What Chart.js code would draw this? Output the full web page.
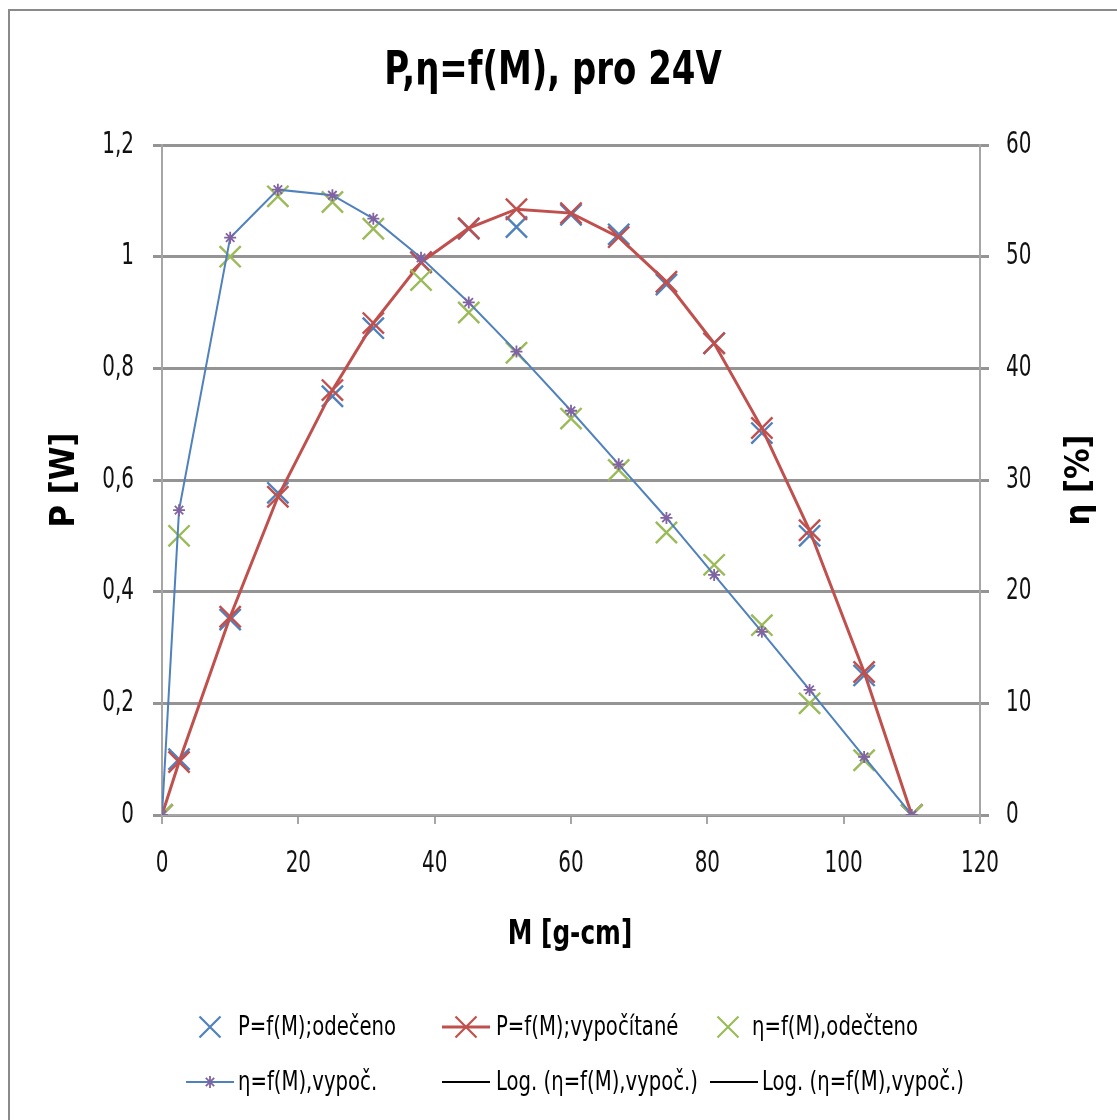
<!DOCTYPE html>
<html>
<head>
<meta charset="utf-8">
<script src="https://cdn.jsdelivr.net/npm/chart.js@4/dist/chart.umd.min.js"></script>
<style>
  html, body { margin: 0; padding: 0; background: #fff; }
  #wrap { width: 1117px; height: 1120px; position: relative; }
</style>
</head>
<body>
<div id="wrap"><canvas id="c" width="1117" height="1120"></canvas></div>
<script>
// ---- data ----
const chartTitle = 'P,η=f(M), pro 24V';
const xTitle = 'M [g-cm]';
const yLeftTitle = 'P [W]';
const yRightTitle = 'η [%]';

const M = [0, 2.5, 10, 17, 25, 31, 38, 45, 52, 60, 67, 74, 81, 88, 95, 103, 110];
const P_odeceno = [0, 0.10, 0.35, 0.577, 0.75, 0.872, 0.99, 1.05, 1.053, 1.075, 1.04, 0.95, 0.845, 0.684, 0.50, 0.25, 0];
const P_vypocitane = [0, 0.095, 0.355, 0.57, 0.761, 0.881, 0.99, 1.051, 1.085, 1.078, 1.035, 0.955, 0.845, 0.693, 0.51, 0.256, 0];
const eta_odecteno = [0, 25, 50, 55.4, 54.9, 52.5, 47.9, 45, 41.4, 35.5, 30.9, 25.3, 22.4, 17, 10, 4.9, 0];
const eta_vypoc = [0, 27.3, 51.7, 56, 55.5, 53.4, 49.9, 45.9, 41.5, 36.2, 31.4, 26.6, 21.5, 16.4, 11.2, 5.2, 0];

const seriesLabels = ['P=f(M);odečeno', 'P=f(M);vypočítané', 'η=f(M),odečteno', 'η=f(M),vypoč.', 'Log. (η=f(M),vypoč.)', 'Log. (η=f(M),vypoč.)'];

const xMin = 0, xMax = 120, xStep = 20;
const pMin = 0, pMax = 1.2, pStep = 0.2;
const eMin = 0, eMax = 60, eStep = 10;

// ---- styling ----
const FONT = "'Liberation Sans Narrow', 'DejaVu Sans Condensed', 'Open Sans', sans-serif";
const BLUE = '#4F81BD', RED = '#C0504D', GREEN = '#9BBB59', PURPLE = '#8064A2';
const GRID = '#949494', AXIS = '#a6a6a6';

const pts = ys => M.map((x, i) => ({ x: x, y: ys[i] }));

const datasets = [
  { label: seriesLabels[0], data: pts(P_odeceno), yAxisID: 'y', showLine: false,
    pointStyle: 'crossRot', pointRadius: 15, pointBorderWidth: 2.4, pointBorderColor: BLUE, borderColor: BLUE, backgroundColor: BLUE, order: 6,
    _leg: { marker: 'x', line: null, mColor: BLUE } },
  { label: seriesLabels[1], data: pts(P_vypocitane), yAxisID: 'y', showLine: true, tension: 0,
    borderColor: RED, borderWidth: 3, pointStyle: 'crossRot', pointRadius: 15, pointBorderWidth: 2.4, pointBorderColor: RED, backgroundColor: RED, order: 5,
    _leg: { marker: 'x', line: RED, mColor: RED } },
  { label: seriesLabels[2], data: pts(eta_odecteno), yAxisID: 'y2', showLine: false,
    pointStyle: 'crossRot', pointRadius: 15, pointBorderWidth: 2.4, pointBorderColor: GREEN, borderColor: GREEN, backgroundColor: GREEN, order: 4,
    _leg: { marker: 'x', line: null, mColor: GREEN } },
  { label: seriesLabels[3], data: pts(eta_vypoc), yAxisID: 'y2', showLine: true, tension: 0,
    borderColor: BLUE, borderWidth: 2, pointStyle: 'star', pointRadius: 6, pointBorderWidth: 1.8, pointBorderColor: PURPLE, backgroundColor: PURPLE, order: 3,
    _leg: { marker: 'star', line: BLUE, mColor: PURPLE } },
  { label: seriesLabels[4], data: [], yAxisID: 'y2', showLine: true, borderColor: '#000', borderWidth: 2, pointRadius: 0, order: 2,
    _leg: { marker: null, line: '#000' } },
  { label: seriesLabels[5], data: [], yAxisID: 'y2', showLine: true, borderColor: '#000', borderWidth: 2, pointRadius: 0, order: 1,
    _leg: { marker: null, line: '#000' } }
];

// legend slots (row/column positions)
const legendSlots = [
  { iconX: 186, textX: 238, y: 1027 },
  { iconX: 442, textX: 496, y: 1027 },
  { iconX: 704, textX: 752, y: 1027 },
  { iconX: 186, textX: 238, y: 1082 },
  { iconX: 442, textX: 496, y: 1082 },
  { iconX: 710, textX: 762, y: 1082 }
];

function drawX(ctx, cx, cy, r, color, lw) {
  ctx.save(); ctx.strokeStyle = color; ctx.lineWidth = lw;
  ctx.beginPath();
  ctx.moveTo(cx - r * 0.7, cy - r * 0.7); ctx.lineTo(cx + r * 0.7, cy + r * 0.7);
  ctx.moveTo(cx + r * 0.7, cy - r * 0.7); ctx.lineTo(cx - r * 0.7, cy + r * 0.7);
  ctx.stroke(); ctx.restore();
}
function drawStar(ctx, cx, cy, r, color, lw) {
  ctx.save(); ctx.strokeStyle = color; ctx.lineWidth = lw;
  ctx.beginPath();
  ctx.moveTo(cx - r * 0.7, cy - r * 0.7); ctx.lineTo(cx + r * 0.7, cy + r * 0.7);
  ctx.moveTo(cx + r * 0.7, cy - r * 0.7); ctx.lineTo(cx - r * 0.7, cy + r * 0.7);
  ctx.moveTo(cx, cy - r); ctx.lineTo(cx, cy + r);
  ctx.stroke(); ctx.restore();
}
// text drawn with a horizontal squeeze (reference uses a narrow face)
function sText(ctx, text, x, y, align, sx) {
  ctx.save(); ctx.translate(x, y); ctx.scale(sx, 1);
  ctx.textAlign = align; ctx.fillText(text, 0, 0); ctx.restore();
}

const fmt = v => String(Math.round(v * 10) / 10).replace('.', ',');

const decor = {
  id: 'decor',
  beforeDraw(chart) {
    const ctx = chart.ctx;
    ctx.save();
    ctx.fillStyle = '#fff'; ctx.fillRect(0, 0, chart.width, chart.height);
    ctx.strokeStyle = '#8a8a8a'; ctx.lineWidth = 2;
    ctx.strokeRect(9, 10, chart.width + 50, chart.height + 50);
    ctx.restore();
  },
  afterDraw(chart) {
    const ctx = chart.ctx;
    ctx.save();
    ctx.fillStyle = '#000';
    ctx.textBaseline = 'middle';
    // title
    ctx.font = 'bold 46px ' + FONT;
    sText(ctx, chartTitle, 553, 72, 'center', 0.82);
    // x title
    ctx.font = 'bold 34px ' + FONT;
    sText(ctx, xTitle, 570, 935, 'center', 0.81);
    // left y title
    ctx.textAlign = 'center';
    ctx.save(); ctx.translate(65, 480); ctx.rotate(-Math.PI / 2);
    ctx.fillText(yLeftTitle, 0, 0); ctx.restore();
    // right y title
    ctx.save(); ctx.translate(1080, 480); ctx.rotate(-Math.PI / 2);
    ctx.fillText(yRightTitle, 0, 0); ctx.restore();

    // tick labels from the library's scales
    ctx.font = '30px ' + FONT;
    ctx.fillStyle = '#111';
    const sx = chart.scales.x, sy = chart.scales.y, sy2 = chart.scales.y2;
    sy.ticks.forEach(t => sText(ctx, fmt(t.value), 134, sy.getPixelForValue(t.value), 'right', 0.74));
    sy2.ticks.forEach(t => sText(ctx, String(t.value), 1006, sy2.getPixelForValue(t.value), 'left', 0.74));
    sx.ticks.forEach(t => sText(ctx, String(t.value), sx.getPixelForValue(t.value), 864, 'center', 0.74));

    // legend
    ctx.font = '26px ' + FONT;
    chart.data.datasets.forEach((ds, i) => {
      const s = legendSlots[i], L = ds._leg;
      const mid = s.iconX + 24;
      if (L.line) {
        ctx.save(); ctx.strokeStyle = L.line; ctx.lineWidth = (ds.borderWidth || 2);
        ctx.beginPath(); ctx.moveTo(s.iconX, s.y); ctx.lineTo(s.iconX + 48, s.y); ctx.stroke(); ctx.restore();
      }
      if (L.marker === 'x') drawX(ctx, mid, s.y, 15, L.mColor, 2.2);
      if (L.marker === 'star') drawStar(ctx, mid, s.y, 6, L.mColor, 1.8);
      ctx.fillStyle = '#000';
      sText(ctx, ds.label, s.textX, s.y + 1, 'left', 0.84);
    });
    ctx.restore();
  }
};

new Chart(document.getElementById('c'), {
  type: 'scatter',
  data: { datasets: datasets },
  options: {
    responsive: false,
    animation: false,
    layout: { padding: { top: 145, left: 0, right: 0, bottom: 0 } },
    plugins: { legend: { display: false }, title: { display: false }, tooltip: { enabled: false } },
    scales: {
      x: {
        type: 'linear', min: xMin, max: xMax,
        ticks: { display: false, stepSize: xStep },
        grid: { drawOnChartArea: false, drawTicks: true, tickLength: 9, color: AXIS, lineWidth: 2 },
        border: { display: true, color: AXIS, width: 2 },
        afterFit: s => { s.height = 305; }
      },
      y: {
        type: 'linear', position: 'left', min: pMin, max: pMax,
        ticks: { display: false, stepSize: pStep },
        grid: { color: GRID, lineWidth: 3, tickLength: 9, tickColor: GRID },
        border: { display: true, color: AXIS, width: 2 },
        afterFit: s => { s.width = 162; }
      },
      y2: {
        type: 'linear', position: 'right', min: eMin, max: eMax,
        ticks: { display: false, stepSize: eStep },
        grid: { drawOnChartArea: false, tickLength: 9, color: GRID, lineWidth: 3 },
        border: { display: true, color: AXIS, width: 2 },
        afterFit: s => { s.width = 137; }
      }
    }
  },
  plugins: [decor]
});
</script>
</body>
</html>
